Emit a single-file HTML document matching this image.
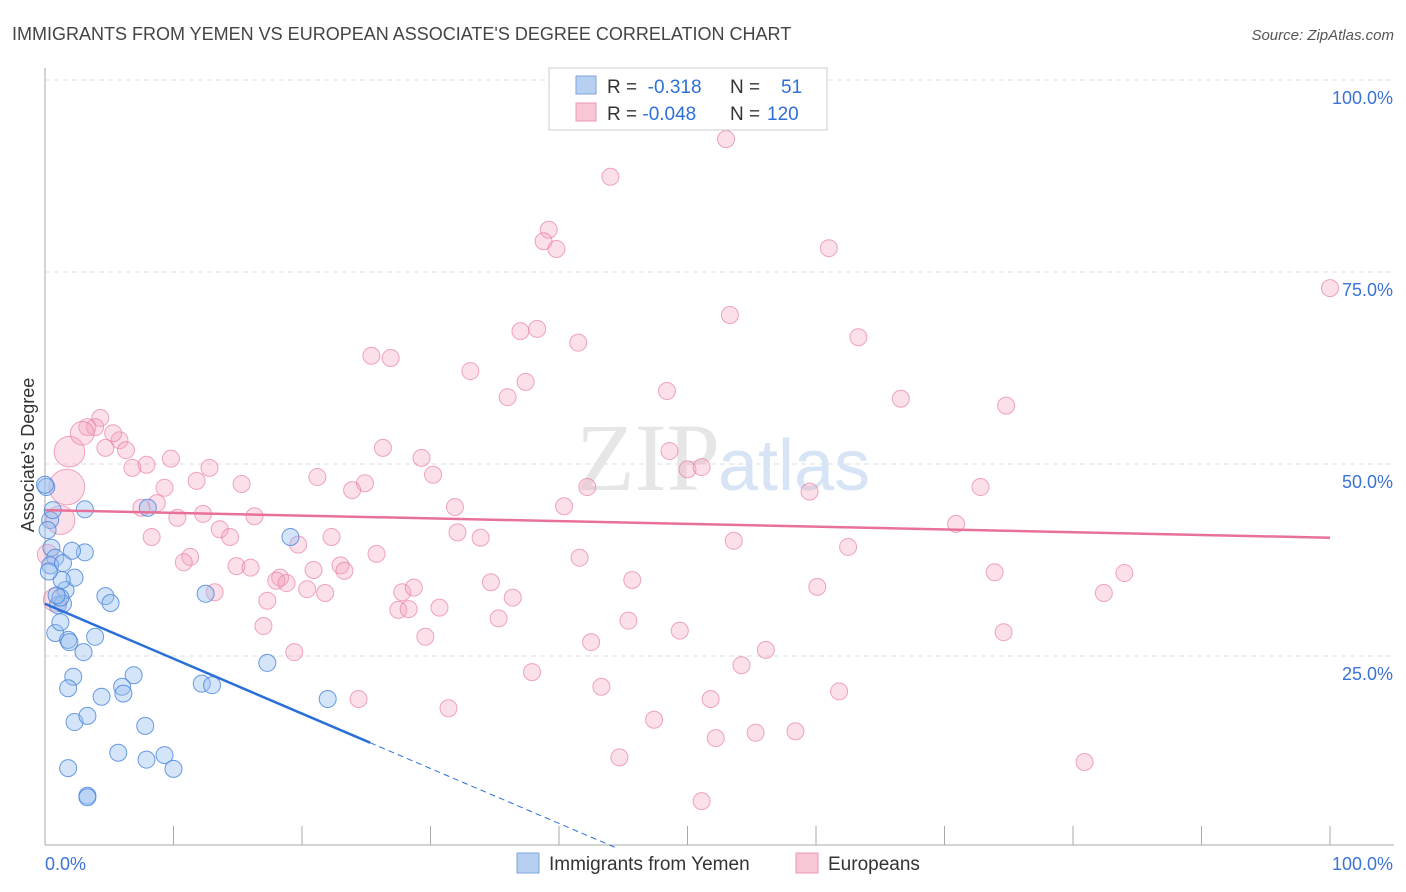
<!DOCTYPE html>
<html><head><meta charset="utf-8"><style>
body{margin:0;background:#fff;font-family:"Liberation Sans",sans-serif}
#c{position:absolute;left:0;top:0}
</style></head><body>
<svg id="c" width="1406" height="892">
<text x="12" y="40" font-size="18" fill="#444">IMMIGRANTS FROM YEMEN VS EUROPEAN ASSOCIATE'S DEGREE CORRELATION CHART</text>
<text x="1394" y="40" font-size="15" fill="#555" font-style="italic" text-anchor="end">Source: ZipAtlas.com</text>
<g id="grid"></g>
<text x="720" y="490" font-size="96" fill="#e6e6e6" text-anchor="end" font-family="Liberation Serif">ZIP</text>
<text x="718" y="490" font-size="72" fill="#d6e4f5">atlas</text>
<text transform="translate(34,455) rotate(-90)" font-size="18" fill="#333" text-anchor="middle">Associate's Degree</text>
<g id="marks"></g>
<g>
<rect x="549" y="68" width="278" height="62" fill="#fff" stroke="#ccc"/>
<rect x="576" y="76" width="20" height="18" fill="#b7d0f2" stroke="#7ea6e0"/>
<rect x="576" y="103" width="20" height="18" fill="#f9c6d6" stroke="#ec9ab5"/>
<text x="607" y="93" font-size="19" fill="#333">R = <tspan fill="#2f6fd6">&#160;-0.318</tspan><tspan x="730">N = </tspan><tspan x="781" fill="#2f6fd6">51</tspan></text>
<text x="607" y="120" font-size="19" fill="#333">R = <tspan fill="#2f6fd6">-0.048</tspan><tspan x="730">N = </tspan><tspan x="767" fill="#2f6fd6">120</tspan></text>
</g>
<g>
<rect x="517" y="853" width="22" height="20" fill="#b7d0f2" stroke="#7ea6e0"/>
<text x="549" y="870" font-size="19" fill="#333">Immigrants from Yemen</text>
<rect x="796" y="853" width="22" height="20" fill="#f9c6d6" stroke="#ec9ab5"/>
<text x="828" y="870" font-size="19" fill="#333">Europeans</text>
</g>
</svg>
<script>
const blueX=[0.1,0.4,0.6,0.5,0.8,0.4,1.4,1.6,1.0,1.4,1.2,2.3,3.1,2.1,3.1,0.8,1.2,1.8,1.9,3.0,3.9,2.2,1.8,4.4,4.7,5.1,6.9,6.0,6.1,2.3,3.3,7.8,5.7,7.9,9.3,1.8,10.0,3.3,3.3,8.0,12.5,19.1,17.3,12.2,13.0,22.0,0,0.2,0.9,1.3,0.3];
const blueY=[47.0,42.7,44.0,39.1,37.8,36.8,37.1,33.6,31.6,31.8,32.6,35.2,38.5,38.7,44.1,28.0,29.4,27.1,26.8,25.5,27.5,22.3,20.8,19.7,32.8,31.9,22.5,21.0,20.1,16.4,17.2,15.9,12.4,11.5,12.1,10.4,10.3,6.8,6.6,44.3,33.1,40.5,24.1,21.4,21.2,19.4,47.3,41.4,32.9,34.9,36.0];
const pinkX=[53.0,44.0,39.2,38.8,39.8,61.0,100,53.3,37.0,38.3,41.5,63.3,25.4,26.9,33.1,37.4,48.4,36.0,66.6,74.8,4.3,3.9,3.3,5.8,5.3,4.7,6.3,1.9,26.3,48.6,29.3,9.8,7.9,12.8,6.8,50.0,51.1,30.2,21.2,11.8,9.3,15.3,24.9,23.9,42.2,72.8,59.5,7.5,8.7,31.9,40.4,10.3,12.3,16.3,70.9,13.6,32.1,8.3,14.4,22.3,19.7,33.9,53.6,62.5,25.8,41.6,11.3,10.8,14.9,16.0,23.0,20.9,23.3,18.3,18.0,18.8,73.9,84.0,34.7,45.7,27.8,28.7,20.4,21.8,60.1,13.2,17.3,36.4,82.4,27.5,28.3,30.7,17.0,35.3,45.4,49.4,74.6,29.6,42.5,19.4,56.1,37.9,54.2,43.3,24.4,61.8,51.8,31.4,47.4,44.7,55.3,52.2,58.4,80.9,51.1,1.7,1.2,0.8,0.2,2.9];
const pinkY=[92.3,87.4,80.5,79.0,78.0,78.1,72.9,69.4,67.3,67.6,65.8,66.5,64.1,63.8,62.1,60.7,59.5,58.7,58.5,57.6,56.0,54.8,54.8,53.1,54.0,52.1,51.8,51.6,52.1,51.7,50.8,50.7,49.9,49.5,49.5,49.3,49.6,48.6,48.3,47.8,46.9,47.4,47.5,46.6,47.0,47.0,46.4,44.3,44.9,44.4,44.5,43.0,43.5,43.2,42.2,41.5,41.1,40.5,40.5,40.5,39.5,40.4,40.0,39.2,38.3,37.8,37.9,37.2,36.7,36.5,36.8,36.2,36.1,35.2,34.8,34.5,35.9,35.8,34.6,34.9,33.3,33.9,33.7,33.2,34.0,33.3,32.2,32.6,33.2,31.0,31.1,31.3,28.9,29.9,29.6,28.3,28.1,27.5,26.8,25.5,25.8,22.9,23.8,21.0,19.4,20.4,19.4,18.2,16.7,11.8,15.0,14.3,15.2,11.2,6.1,47.0,42.7,32.3,38.2,54.0];
const pinkW=[];for(let i=0;i<pinkX.length;i++)pinkW.push(1);
pinkW[115]=2.1;pinkW[27]=1.8;pinkW[116]=1.7;pinkW[117]=1.4;pinkW[118]=1.2;pinkW[119]=1.4;
const yTicks=[25,50,75,100];
const yTickLabels=["25.0%","50.0%","75.0%","100.0%"];
const blueLine=[31.8,-0.715], pinkLine=[44.0,-0.036];
const X=v=>45+v*12.85, Y=v=>848-v*7.68;
const NS="http://www.w3.org/2000/svg";
const grid=document.getElementById('grid'), marks=document.getElementById('marks');
function mk(p,tag,a){const e=document.createElementNS(NS,tag);for(const k in a)e.setAttribute(k,a[k]);p.appendChild(e);return e;}
yTicks.forEach((t,i)=>{
 const l=mk(grid,'line',{x1:45,x2:1394,y1:Y(t),y2:Y(t),stroke:'#ddd','stroke-dasharray':'5,4'});
 
 
 const tx=mk(grid,'text',{x:1393,y:Y(t)+24,'font-size':18,fill:'#3b73d6','text-anchor':'end'});
 tx.textContent=yTickLabels[i];
 
 
});
const ax=mk(grid,'line',{x1:45,x2:45,y1:68,y2:845,stroke:'#aaa'});


const bx=mk(grid,'line',{x1:45,x2:1394,y1:845,y2:845,stroke:'#aaa'});


for(let i=0;i<=10;i++){const t=mk(grid,'line',{x1:X(i*10),x2:X(i*10),y1:826,y2:845,stroke:'#aaa'});
 
 }
[["0.0%",45,'start'],["100.0%",1393,'end']].forEach(a=>{const t=mk(grid,'text',{x:a[1],y:870,'font-size':18,fill:'#3b73d6','text-anchor':a[2]});t.textContent=a[0];
 
 });
pinkX.forEach((x,i)=>{const c=mk(marks,'circle',{cx:X(x),cy:Y(pinkY[i]),r:8.5*pinkW[i],fill:'rgba(244,160,188,0.33)',stroke:'rgba(232,120,160,0.65)','stroke-width':1});
 
 });
blueX.forEach((x,i)=>{const c=mk(marks,'circle',{cx:X(x),cy:Y(blueY[i]),r:8.5,fill:'rgba(150,190,240,0.4)',stroke:'rgba(70,130,220,0.8)','stroke-width':1});
 
 });
const pl=mk(marks,'line',{x1:X(0),y1:Y(pinkLine[0]),x2:X(100),y2:Y(pinkLine[0]+pinkLine[1]*100),stroke:'#e8719a','stroke-width':2.5});


const bl=mk(marks,'line',{x1:X(0),y1:Y(blueLine[0]),x2:X(25.3),y2:Y(blueLine[0]+blueLine[1]*25.3),stroke:'#2a6fd8','stroke-width':2.5});


const xe=-blueLine[0]/blueLine[1];
const bd=mk(marks,'line',{x1:X(25.3),y1:Y(blueLine[0]+blueLine[1]*25.3),x2:X(xe),y2:Y(0),stroke:'#2a6fd8','stroke-width':1,'stroke-dasharray':'6,4'});


</script>
</body></html>
